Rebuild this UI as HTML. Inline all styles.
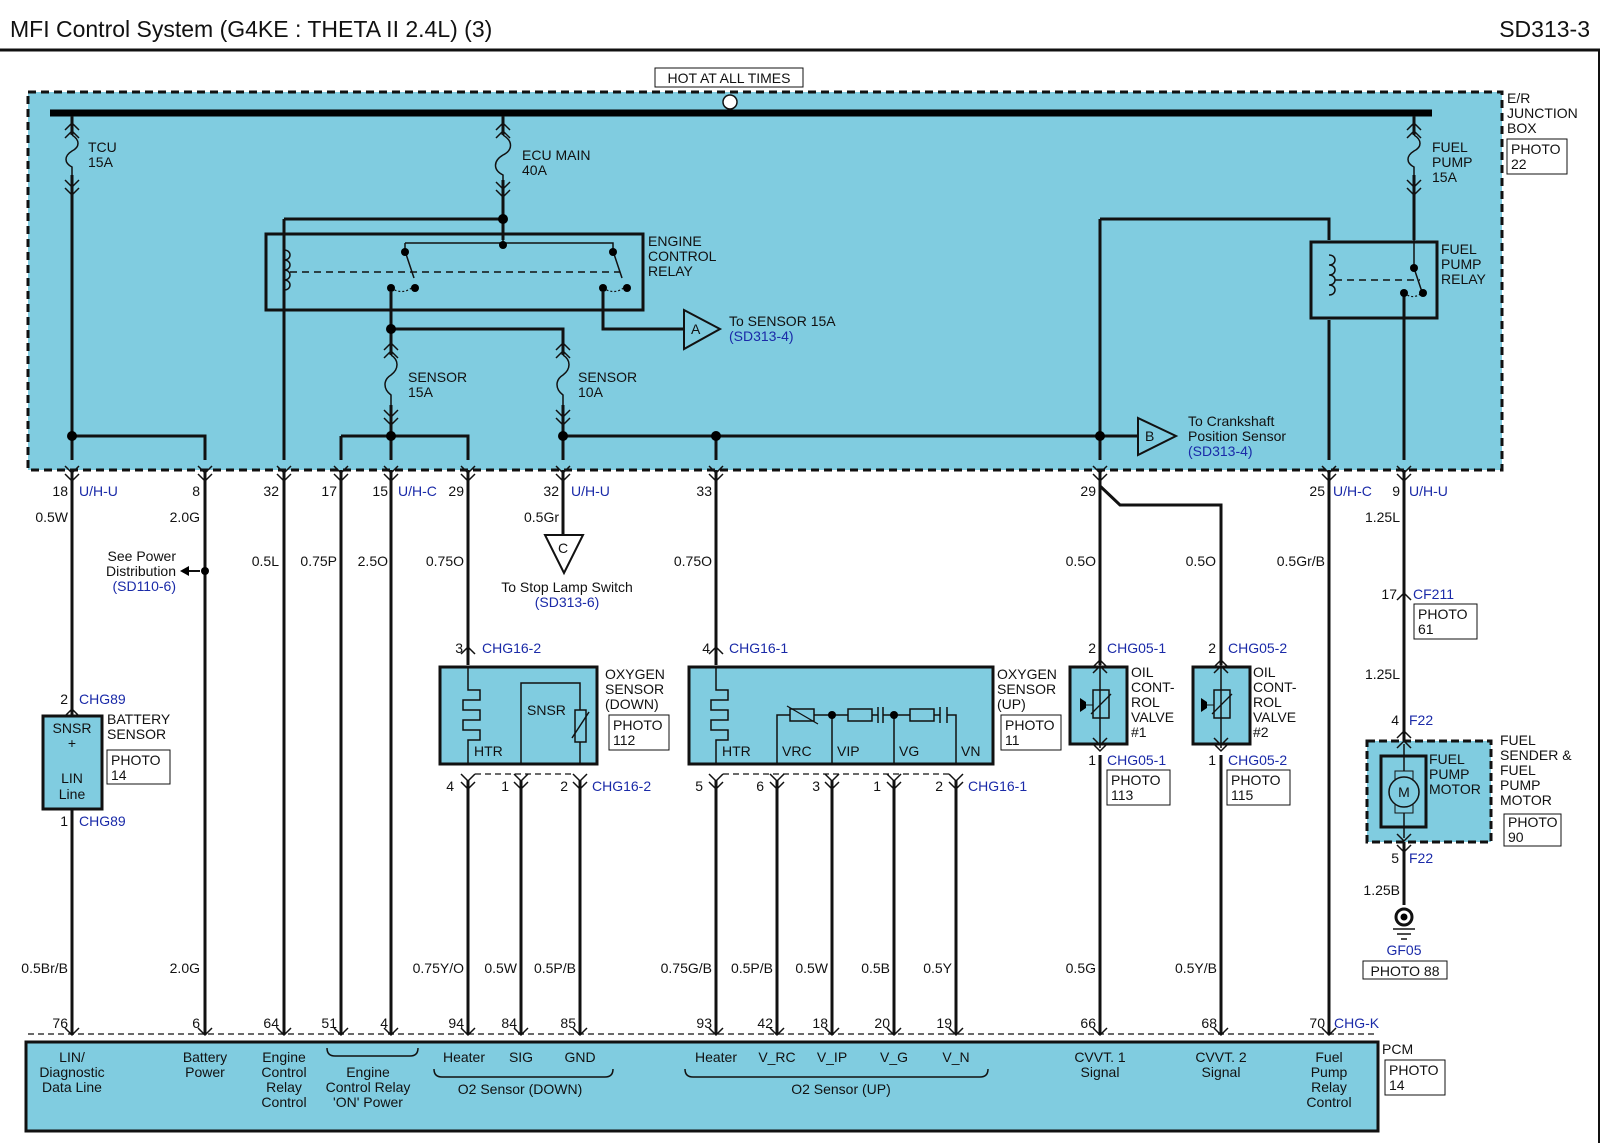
<!DOCTYPE html>
<html><head><meta charset="utf-8"><style>
html,body{margin:0;padding:0;background:#fff}
svg{display:block}
text{font-family:"Liberation Sans",sans-serif;font-size:14px;fill:#111}
.b{fill:#1a2aa8}
.w{stroke:#111;stroke-width:3;fill:none}
.t{stroke:#111;stroke-width:1.5;fill:none}
.c{stroke:#111;stroke-width:1.5;fill:none}
</style></head><body>
<svg width="1600" height="1143" viewBox="0 0 1600 1143" xmlns="http://www.w3.org/2000/svg">
<text x="10" y="37" style="font-size:23px">MFI Control System  (G4KE : THETA II 2.4L) (3)</text>
<text x="1590" y="37" text-anchor="end" style="font-size:23px">SD313-3</text>
<line x1="0" y1="50" x2="1600" y2="50" stroke="#111" stroke-width="3"/>
<line x1="1599" y1="50" x2="1599" y2="1143" stroke="#111" stroke-width="2"/>

<rect x="28" y="92" width="1474" height="378" fill="#80cce0" stroke="#111" stroke-width="3" stroke-dasharray="8,5"/>
<text x="1507" y="103">E/R</text><text x="1507" y="118">JUNCTION</text><text x="1507" y="133">BOX</text>
<rect x="1507" y="139" width="60" height="35" fill="#fff" stroke="#111"/>
<text x="1511" y="154">PHOTO</text><text x="1511" y="169">22</text>
<rect x="655" y="68" width="148" height="19" fill="#fff" stroke="#111"/>
<text x="729" y="83" text-anchor="middle">HOT AT ALL TIMES</text>
<line x1="50" y1="113" x2="1432" y2="113" stroke="#000" stroke-width="7"/>
<circle cx="730" cy="102" r="7" fill="#fff" stroke="#111" stroke-width="1.5"/>

<g class="w">
<path d="M72 116 V460 M72 436 H205 V460"/>
<path d="M503 116 V240 M284 219 H503 M284 219 V460"/>
<path d="M1414 116 V240 M1100 219 H1329 V240 M1100 219 V460 M1329 320 V460 M1404 290 V460"/>
<path d="M391 292 V460 M391 329 H563 V460 M341 436 H468 V460 M341 436 V460 M563 436 H1138 M716 436 V460 M603 292 V329 H684"/>
</g>
<g fill="#80cce0" stroke="none">
<rect x="64" y="135" width="16" height="40"/><rect x="495" y="135" width="16" height="45"/><rect x="1406" y="135" width="16" height="40"/>
<rect x="383" y="355" width="16" height="50"/><rect x="555" y="355" width="16" height="50"/>
</g>
<g class="t" stroke-width="2">
<path d="M72 135 c8 5 8 12 0 16 c-8 5 -8 12 0 16 v8"/>
<path d="M503 135 c10 6 10 15 0 20 c-10 6 -10 15 0 20 v5"/>
<path d="M1414 135 c8 5 8 12 0 16 c-8 5 -8 12 0 16 v8"/>
<path d="M391 355 c8 5 8 14 0 20 c-8 5 -8 14 0 20 v10"/>
<path d="M563 355 c8 5 8 14 0 20 c-8 5 -8 14 0 20 v10"/>
</g>
<g class="c">
<path d="M65 130l7-7 7 7M65 138l7-7 7 7M65 180l7 7 7-7M65 188l7 7 7-7"/>
<path d="M496 130l7-7 7 7M496 138l7-7 7 7M496 182l7 7 7-7M496 190l7 7 7-7"/>
<path d="M1407 130l7-7 7 7M1407 138l7-7 7 7M1407 180l7 7 7-7M1407 188l7 7 7-7"/>
<path d="M384 350l7-7 7 7M384 358l7-7 7 7M384 410l7 7 7-7M384 418l7 7 7-7"/>
<path d="M556 350l7-7 7 7M556 358l7-7 7 7M556 410l7 7 7-7M556 418l7 7 7-7"/>
</g>
<text x="88" y="152">TCU</text><text x="88" y="167">15A</text>
<text x="522" y="160">ECU MAIN</text><text x="522" y="175">40A</text>
<text x="1432" y="152">FUEL</text><text x="1432" y="167">PUMP</text><text x="1432" y="182">15A</text>
<text x="408" y="382">SENSOR</text><text x="408" y="397">15A</text>
<text x="578" y="382">SENSOR</text><text x="578" y="397">10A</text>

<rect x="266" y="234" width="377" height="76" fill="none" stroke="#111" stroke-width="3"/>
<path class="t" d="M503 240 V243 M405 243 H613 V251 M405 243 V251"/>
<path class="t" d="M284 250 c8 0 8 10 0 10 c8 0 8 10 0 10 c8 0 8 10 0 10 c8 0 8 10 0 10"/>
<line x1="290" y1="272" x2="620" y2="272" stroke="#111" stroke-width="1.5" stroke-dasharray="7,5"/>
<path class="t" d="M405 251 L414 278 M613 251 L622 278"/>
<path d="M391 288 q12 8 23 -2 M603 288 q12 8 23 -2" fill="none" stroke="#111" stroke-width="1.2" stroke-dasharray="2,2"/>
<g fill="#000"><circle cx="405" cy="252" r="4"/><circle cx="415" cy="288" r="4"/><circle cx="391" cy="288" r="4"/>
<circle cx="613" cy="252" r="4"/><circle cx="627" cy="288" r="4"/><circle cx="603" cy="288" r="4"/>
<circle cx="503" cy="219" r="5"/><circle cx="503" cy="245" r="4"/><circle cx="391" cy="329" r="5"/>
<circle cx="391" cy="436" r="5"/><circle cx="563" cy="436" r="5"/><circle cx="716" cy="436" r="5"/><circle cx="1100" cy="436" r="5"/><circle cx="72" cy="436" r="5"/></g>
<text x="648" y="246">ENGINE</text><text x="648" y="261">CONTROL</text><text x="648" y="276">RELAY</text>
<path d="M684 310 L720 329 L684 349 Z" fill="#80cce0" stroke="#111" stroke-width="2"/>
<text x="691" y="334">A</text>
<text x="729" y="326">To SENSOR 15A</text><text x="729" y="341" class="b">(SD313-4)</text>
<path d="M1138 418 L1176 436 L1138 455 Z" fill="#80cce0" stroke="#111" stroke-width="2"/>
<text x="1145" y="441">B</text>
<text x="1188" y="426">To Crankshaft</text><text x="1188" y="441">Position Sensor</text><text x="1188" y="456" class="b">(SD313-4)</text>

<rect x="1311" y="242" width="126" height="76" fill="none" stroke="#111" stroke-width="3"/>
<path class="t" d="M1329 255 c8 0 8 10 0 10 c8 0 8 10 0 10 c8 0 8 10 0 10 c8 0 8 10 0 10"/>
<line x1="1335" y1="280" x2="1420" y2="280" stroke="#111" stroke-width="1.5" stroke-dasharray="7,5"/>
<path class="t" d="M1414 240 V268 L1422 292"/>
<path d="M1404 293 q10 8 20 -2" fill="none" stroke="#111" stroke-width="1.2" stroke-dasharray="2,2"/>
<g fill="#000"><circle cx="1414" cy="268" r="4"/><circle cx="1423" cy="293" r="4"/><circle cx="1404" cy="293" r="4"/></g>
<text x="1441" y="254">FUEL</text><text x="1441" y="269">PUMP</text><text x="1441" y="284">RELAY</text>

<g class="c">
<path d="M65 466l7 7 7-7M65 474l7 7 7-7 M198 466l7 7 7-7M198 474l7 7 7-7 M277 466l7 7 7-7M277 474l7 7 7-7 M334 466l7 7 7-7M334 474l7 7 7-7 M384 466l7 7 7-7M384 474l7 7 7-7 M461 466l7 7 7-7M461 474l7 7 7-7 M556 466l7 7 7-7M556 474l7 7 7-7 M709 466l7 7 7-7M709 474l7 7 7-7 M1093 466l7 7 7-7M1093 474l7 7 7-7 M1322 466l7 7 7-7M1322 474l7 7 7-7 M1397 466l7 7 7-7M1397 474l7 7 7-7"/>
</g>
<g class="w">
<path d="M72 470 V1035 M205 470 V1035 M284 470 V1035 M341 470 V1035 M391 470 V1035 M468 470 V665 M563 470 V540 M716 470 V665 M1100 470 V665 M1100 486 L1120 505 H1221 V665 M1329 470 V1035 M1404 470 V905"/>
<path d="M468 780 V1035 M521 780 V1035 M580 780 V1035 M716 780 V1035 M777 780 V1035 M832 780 V1035 M894 780 V1035 M956 780 V1035 M1100 755 V1035 M1221 755 V1035"/>
</g>
<g text-anchor="end">
<text x="68" y="496">18</text><text x="200" y="496">8</text><text x="279" y="496">32</text><text x="337" y="496">17</text><text x="388" y="496">15</text><text x="464" y="496">29</text><text x="559" y="496">32</text><text x="712" y="496">33</text><text x="1096" y="496">29</text><text x="1325" y="496">25</text><text x="1400" y="496">9</text>
<text x="68" y="522">0.5W</text><text x="200" y="522">2.0G</text><text x="279" y="566">0.5L</text><text x="337" y="566">0.75P</text><text x="388" y="566">2.5O</text><text x="464" y="566">0.75O</text><text x="559" y="522">0.5Gr</text><text x="712" y="566">0.75O</text><text x="1096" y="566">0.5O</text><text x="1216" y="566">0.5O</text><text x="1325" y="566">0.5Gr/B</text><text x="1400" y="522">1.25L</text>
</g>
<text x="79" y="496" class="b">U/H-U</text><text x="398" y="496" class="b">U/H-C</text><text x="571" y="496" class="b">U/H-U</text><text x="1333" y="496" class="b">U/H-C</text><text x="1409" y="496" class="b">U/H-U</text>
<text x="176" y="561" text-anchor="end">See Power</text><text x="176" y="576" text-anchor="end">Distribution</text><text x="176" y="591" text-anchor="end" class="b">(SD110-6)</text>
<path d="M182 571 H200" stroke="#111" stroke-width="2"/><path d="M180 571 l9-5 v10z" fill="#000"/><circle cx="205" cy="571" r="4" fill="#000"/>
<path d="M545 535 H583 L564 573 Z" fill="#fff" stroke="#111" stroke-width="2"/>
<text x="558" y="553">C</text>
<text x="567" y="592" text-anchor="middle">To Stop Lamp Switch</text><text x="567" y="607" text-anchor="middle" class="b">(SD313-6)</text>

<text x="68" y="704" text-anchor="end">2</text><text x="79" y="704" class="b">CHG89</text>
<text x="68" y="826" text-anchor="end">1</text><text x="79" y="826" class="b">CHG89</text>
<path class="c" d="M65 716l7-7 7 7 M65 803l7 7 7-7"/>
<rect x="43" y="716" width="59" height="93" fill="#80cce0" stroke="#111" stroke-width="3"/>
<text x="72" y="733" text-anchor="middle">SNSR</text><text x="72" y="748" text-anchor="middle">+</text><text x="72" y="783" text-anchor="middle">LIN</text><text x="72" y="799" text-anchor="middle">Line</text>
<text x="107" y="724">BATTERY</text><text x="107" y="739">SENSOR</text>
<rect x="107" y="750" width="63" height="34" fill="#fff" stroke="#111"/><text x="111" y="765">PHOTO</text><text x="111" y="780">14</text>

<text x="463" y="653" text-anchor="end">3</text><text x="482" y="653" class="b">CHG16-2</text>
<path class="c" d="M461 654l7-7 7 7"/>
<rect x="440" y="667" width="157" height="97" fill="#80cce0" stroke="#111" stroke-width="3"/>
<path class="t" d="M468 667 V690 H480 V700 H463 V710 H480 V720 H463 V730 H480 V740 H468 V764"/>
<path class="t" d="M521 764 V683 H580 V710 M580 742 V764"/>
<rect x="575" y="710" width="11" height="32" fill="none" stroke="#111" stroke-width="1.5"/>
<line x1="572" y1="738" x2="589" y2="712" stroke="#111" stroke-width="1.5"/>
<text x="474" y="756">HTR</text><text x="527" y="715">SNSR</text>
<text x="605" y="679">OXYGEN</text><text x="605" y="694">SENSOR</text><text x="605" y="709">(DOWN)</text>
<rect x="609" y="715" width="60" height="35" fill="#fff" stroke="#111"/><text x="613" y="730">PHOTO</text><text x="613" y="745">112</text>
<path class="c" d="M461 774l7 7 7-7M461 782l7 7 7-7 M514 774l7 7 7-7M514 782l7 7 7-7 M573 774l7 7 7-7M573 782l7 7 7-7"/>
<line x1="475" y1="774" x2="573" y2="774" stroke="#111" stroke-width="1.3" stroke-dasharray="6,4"/>
<text x="454" y="791" text-anchor="end">4</text><text x="509" y="791" text-anchor="end">1</text><text x="568" y="791" text-anchor="end">2</text><text x="592" y="791" class="b">CHG16-2</text>

<text x="710" y="653" text-anchor="end">4</text><text x="729" y="653" class="b">CHG16-1</text>
<path class="c" d="M709 654l7-7 7 7"/>
<rect x="689" y="667" width="304" height="97" fill="#80cce0" stroke="#111" stroke-width="3"/>
<path class="t" d="M716 667 V690 H728 V700 H711 V710 H728 V720 H711 V730 H728 V740 H716 V764"/>
<path class="t" d="M777 764 V715 H790 M832 764 V715 M814 715 H848 M894 764 V715 M883 715 H910 M956 764 V715 H947"/>
<rect x="790" y="709" width="24" height="12" fill="none" stroke="#111" stroke-width="1.5"/>
<line x1="787" y1="706" x2="818" y2="724" stroke="#111" stroke-width="1.3"/>
<rect x="848" y="709" width="24" height="12" fill="none" stroke="#111" stroke-width="1.5"/>
<path class="t" d="M872 715 H878 M878 707 V723 M883 707 V723"/>
<rect x="910" y="709" width="24" height="12" fill="none" stroke="#111" stroke-width="1.5"/>
<path class="t" d="M934 715 H940 M940 707 V723 M947 707 V723"/>
<circle cx="832" cy="715" r="4" fill="#000"/><circle cx="894" cy="715" r="4" fill="#000"/>
<text x="722" y="756">HTR</text><text x="782" y="756">VRC</text><text x="837" y="756">VIP</text><text x="899" y="756">VG</text><text x="961" y="756">VN</text>
<text x="997" y="679">OXYGEN</text><text x="997" y="694">SENSOR</text><text x="997" y="709">(UP)</text>
<rect x="1001" y="715" width="60" height="35" fill="#fff" stroke="#111"/><text x="1005" y="730">PHOTO</text><text x="1005" y="745">11</text>
<path class="c" d="M709 774l7 7 7-7M709 782l7 7 7-7 M770 774l7 7 7-7M770 782l7 7 7-7 M825 774l7 7 7-7M825 782l7 7 7-7 M887 774l7 7 7-7M887 782l7 7 7-7 M949 774l7 7 7-7M949 782l7 7 7-7"/>
<line x1="723" y1="774" x2="949" y2="774" stroke="#111" stroke-width="1.3" stroke-dasharray="6,4"/>
<text x="703" y="791" text-anchor="end">5</text><text x="764" y="791" text-anchor="end">6</text><text x="820" y="791" text-anchor="end">3</text><text x="881" y="791" text-anchor="end">1</text><text x="943" y="791" text-anchor="end">2</text><text x="968" y="791" class="b">CHG16-1</text>

<g>
<text x="1096" y="653" text-anchor="end">2</text><text x="1107" y="653" class="b">CHG05-1</text>
<rect x="1070" y="667" width="57" height="77" fill="#80cce0" stroke="#111" stroke-width="3"/>
<path class="t" d="M1100 663 V748 M1093 667l7-7 7 7 M1093 744l7 7 7-7 M1093 673l7-7 7 7 M1093 738l7 7 7-7"/>
<rect x="1093" y="690" width="16" height="28" fill="none" stroke="#111" stroke-width="1.5"/><line x1="1091" y1="714" x2="1111" y2="694" stroke="#111" stroke-width="1.3"/>
<path d="M1080 698 l6 4 v6 l-6 4z" fill="#000"/><line x1="1086" y1="705" x2="1093" y2="705" stroke="#111"/>
<text x="1131" y="677">OIL</text><text x="1131" y="692">CONT-</text><text x="1131" y="707">ROL</text><text x="1131" y="722">VALVE</text><text x="1131" y="737">#1</text>
<text x="1096" y="765" text-anchor="end">1</text><text x="1107" y="765" class="b">CHG05-1</text>
<rect x="1107" y="770" width="63" height="35" fill="#fff" stroke="#111"/><text x="1111" y="785">PHOTO</text><text x="1111" y="800">113</text>
</g>
<g>
<text x="1216" y="653" text-anchor="end">2</text><text x="1228" y="653" class="b">CHG05-2</text>
<rect x="1193" y="667" width="57" height="77" fill="#80cce0" stroke="#111" stroke-width="3"/>
<path class="t" d="M1221 663 V748 M1214 667l7-7 7 7 M1214 744l7 7 7-7 M1214 673l7-7 7 7 M1214 738l7 7 7-7"/>
<rect x="1214" y="690" width="16" height="28" fill="none" stroke="#111" stroke-width="1.5"/><line x1="1212" y1="714" x2="1232" y2="694" stroke="#111" stroke-width="1.3"/>
<path d="M1201 698 l6 4 v6 l-6 4z" fill="#000"/><line x1="1207" y1="705" x2="1214" y2="705" stroke="#111"/>
<text x="1253" y="677">OIL</text><text x="1253" y="692">CONT-</text><text x="1253" y="707">ROL</text><text x="1253" y="722">VALVE</text><text x="1253" y="737">#2</text>
<text x="1216" y="765" text-anchor="end">1</text><text x="1228" y="765" class="b">CHG05-2</text>
<rect x="1227" y="770" width="63" height="35" fill="#fff" stroke="#111"/><text x="1231" y="785">PHOTO</text><text x="1231" y="800">115</text>
</g>

<text x="1397" y="599" text-anchor="end">17</text><text x="1413" y="599" class="b">CF211</text>
<path class="c" d="M1397 600l7-7 7 7"/>
<rect x="1414" y="604" width="63" height="35" fill="#fff" stroke="#111"/><text x="1418" y="619">PHOTO</text><text x="1418" y="634">61</text>
<text x="1400" y="679" text-anchor="end">1.25L</text>
<text x="1399" y="725" text-anchor="end">4</text><text x="1409" y="725" class="b">F22</text>
<rect x="1367" y="741" width="124" height="101" fill="#80cce0" stroke="#111" stroke-width="3" stroke-dasharray="8,4"/>
<path class="c" d="M1397 738l7-7 7 7 M1397 845l7 7 7-7"/>
<rect x="1381" y="756" width="45" height="71" fill="none" stroke="#111" stroke-width="3"/>
<path class="t" d="M1404 744 V838 M1397 748l7-7 7 7 M1397 834l7 7 7-7"/>
<rect x="1395" y="771" width="18" height="42" fill="#80cce0" stroke="#111"/>
<circle cx="1404" cy="792" r="15" fill="#80cce0" stroke="#111" stroke-width="1.5"/><text x="1404" y="797" text-anchor="middle">M</text>
<text x="1429" y="764">FUEL</text><text x="1429" y="779">PUMP</text><text x="1429" y="794">MOTOR</text>
<text x="1500" y="745">FUEL</text><text x="1500" y="760">SENDER &amp;</text><text x="1500" y="775">FUEL</text><text x="1500" y="790">PUMP</text><text x="1500" y="805">MOTOR</text>
<rect x="1504" y="814" width="57" height="32" fill="#fff" stroke="#111"/><text x="1508" y="827">PHOTO</text><text x="1508" y="842">90</text>
<text x="1399" y="863" text-anchor="end">5</text><text x="1409" y="863" class="b">F22</text>
<text x="1400" y="895" text-anchor="end">1.25B</text>
<circle cx="1404" cy="917" r="8" fill="none" stroke="#111" stroke-width="3"/><circle cx="1404" cy="917" r="3.5" fill="#000"/>
<path class="t" d="M1393 929 H1415 M1397 934 H1411 M1401 939 H1407" stroke-width="2"/>
<text x="1404" y="955" text-anchor="middle" class="b">GF05</text>
<rect x="1363" y="961" width="84" height="18" fill="#fff" stroke="#111"/><text x="1405" y="976" text-anchor="middle">PHOTO 88</text>

<g text-anchor="end">
<text x="68" y="973">0.5Br/B</text><text x="200" y="973">2.0G</text><text x="464" y="973">0.75Y/O</text><text x="517" y="973">0.5W</text><text x="576" y="973">0.5P/B</text><text x="712" y="973">0.75G/B</text><text x="773" y="973">0.5P/B</text><text x="828" y="973">0.5W</text><text x="890" y="973">0.5B</text><text x="952" y="973">0.5Y</text><text x="1096" y="973">0.5G</text><text x="1217" y="973">0.5Y/B</text>
<text x="68" y="1028">76</text><text x="200" y="1028">6</text><text x="279" y="1028">64</text><text x="337" y="1028">51</text><text x="388" y="1028">4</text><text x="464" y="1028">94</text><text x="517" y="1028">84</text><text x="576" y="1028">85</text><text x="712" y="1028">93</text><text x="773" y="1028">42</text><text x="828" y="1028">18</text><text x="890" y="1028">20</text><text x="952" y="1028">19</text><text x="1096" y="1028">66</text><text x="1217" y="1028">68</text><text x="1325" y="1028">70</text>
</g>
<text x="1334" y="1028" class="b">CHG-K</text>

<line x1="28" y1="1034" x2="1375" y2="1034" stroke="#111" stroke-width="1.3" stroke-dasharray="6,4"/>
<g class="c">
<path d="M65 1028l7 7 7-7M198 1028l7 7 7-7M277 1028l7 7 7-7M334 1028l7 7 7-7M384 1028l7 7 7-7M461 1028l7 7 7-7M514 1028l7 7 7-7M573 1028l7 7 7-7M709 1028l7 7 7-7M770 1028l7 7 7-7M825 1028l7 7 7-7M887 1028l7 7 7-7M949 1028l7 7 7-7M1093 1028l7 7 7-7M1214 1028l7 7 7-7M1322 1028l7 7 7-7"/>
</g>
<rect x="26" y="1042" width="1352" height="89" fill="#80cce0" stroke="#111" stroke-width="3"/>
<g text-anchor="middle">
<text x="72" y="1062">LIN/</text><text x="72" y="1077">Diagnostic</text><text x="72" y="1092">Data Line</text>
<text x="205" y="1062">Battery</text><text x="205" y="1077">Power</text>
<text x="284" y="1062">Engine</text><text x="284" y="1077">Control</text><text x="284" y="1092">Relay</text><text x="284" y="1107">Control</text>
<text x="368" y="1077">Engine</text><text x="368" y="1092">Control Relay</text><text x="368" y="1107">'ON' Power</text>
<text x="464" y="1062">Heater</text><text x="521" y="1062">SIG</text><text x="580" y="1062">GND</text>
<text x="520" y="1094">O2 Sensor (DOWN)</text>
<text x="716" y="1062">Heater</text><text x="777" y="1062">V_RC</text><text x="832" y="1062">V_IP</text><text x="894" y="1062">V_G</text><text x="956" y="1062">V_N</text>
<text x="841" y="1094">O2 Sensor (UP)</text>
<text x="1100" y="1062">CVVT. 1</text><text x="1100" y="1077">Signal</text>
<text x="1221" y="1062">CVVT. 2</text><text x="1221" y="1077">Signal</text>
<text x="1329" y="1062">Fuel</text><text x="1329" y="1077">Pump</text><text x="1329" y="1092">Relay</text><text x="1329" y="1107">Control</text>
</g>
<path class="t" d="M327 1048 q0 8 8 8 H410 q8 0 8 -8 M434 1069 q0 8 8 8 H605 q8 0 8 -8 M685 1069 q0 8 8 8 H980 q8 0 8 -8" stroke-width="1.2"/>
<text x="1382" y="1054">PCM</text>
<rect x="1385" y="1060" width="60" height="35" fill="#fff" stroke="#111"/><text x="1389" y="1075">PHOTO</text><text x="1389" y="1090">14</text>
</svg>
</body></html>
